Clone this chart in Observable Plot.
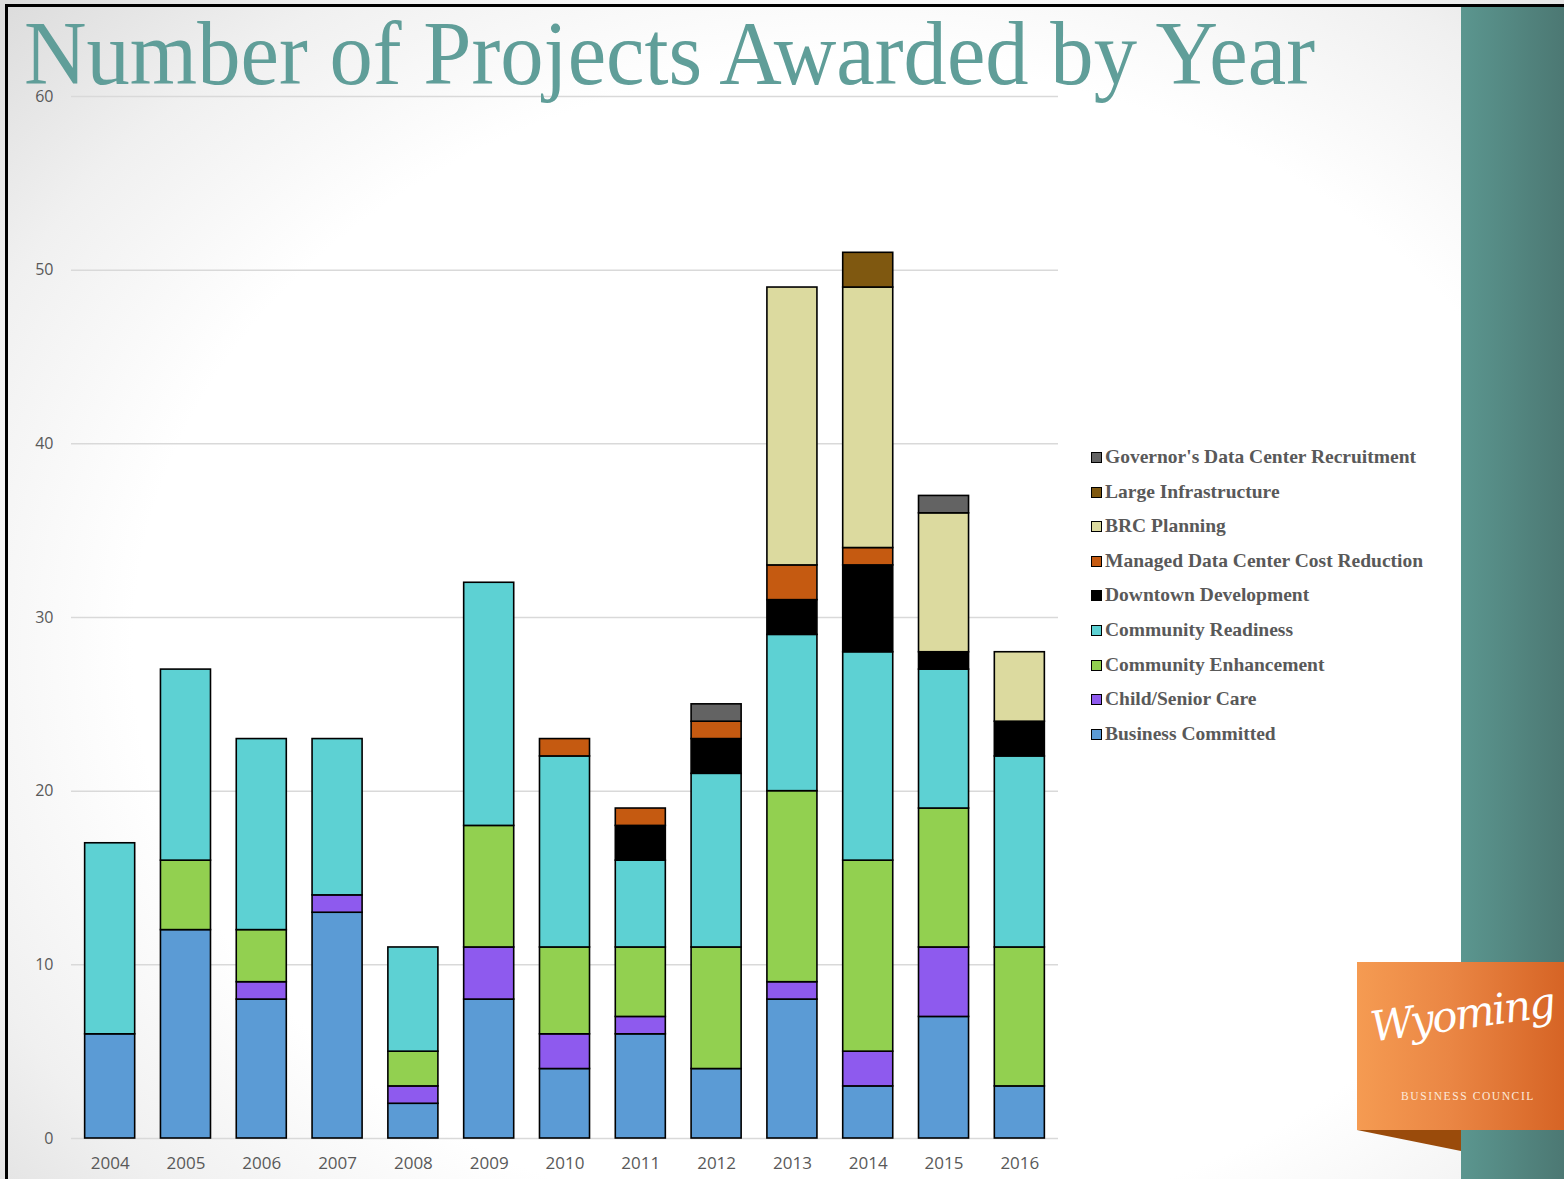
<!DOCTYPE html>
<html>
<head>
<meta charset="utf-8">
<script src="https://cdn.jsdelivr.net/npm/d3@7"></script>
<script src="https://cdn.jsdelivr.net/npm/@observablehq/plot@0.6"></script>
<style>
  html, body { margin: 0; padding: 0; }
  body { width: 1564px; height: 1179px; overflow: hidden; }
  #slide {
    position: relative; width: 1564px; height: 1179px; overflow: hidden;
    background: radial-gradient(ellipse 75% 80% at 55% 55%, #ffffff 62%, #f0f0f0 82%, #dcdcdc 100%);
  }
  #frameLine {
    position: absolute; left: 5px; top: 4px; right: 0; bottom: -10px;
    border-left: 3px solid #000; border-top: 3px solid #000;
  }
  #band {
    position: absolute; left: 1461px; top: 7px; width: 103px; bottom: 0;
    background: linear-gradient(to right, #5b968f, #4c7873);
  }
  #logo {
    position: absolute; left: 1357px; top: 962px; width: 207px; height: 168px;
    background: linear-gradient(to right, #f59b52, #ea8644 45%, #d66425);
  }
  #tri {
    position: absolute; left: 1357px; top: 1130px; width: 104px; height: 21px;
    background: #9a4b0b; clip-path: polygon(0 0, 100% 0, 100% 100%);
  }
  #logoText {
    position: absolute; left: 1362px; top: 990px; width: 200px; text-align: center;
    font-family: "DejaVu Serif", serif; font-style: italic; font-size: 42px; color: #fff;
    letter-spacing: -2px; transform: rotate(-8deg);
  }
  #logoSub {
    position: absolute; left: 1380px; top: 1090px; width: 176px; text-align: center;
    font-family: "Liberation Serif", serif; font-size: 11.5px; color: #fdeadb; letter-spacing: 1.6px;
  }
  #title {
    position: absolute; left: 24px; top: 9px; white-space: nowrap;
    font-family: "Liberation Serif", serif; font-size: 90px; color: #609e99;
    transform-origin: 0 0; line-height: 1;
  }
  #chart { position: absolute; left: 0; top: 0; }
  #legend { position: absolute; left: 1091px; top: 446px; }
  .li { position: relative; height: 34.6px; display: flex; align-items: flex-start;
        font-family: "Liberation Serif", serif; font-weight: bold; font-size: 19.5px; color: #595959; }
  .sw { width: 9px; height: 9px; border: 1.2px solid #000; margin-top: 6px; margin-right: 3px; flex: none; }
</style>
</head>
<body>
<div id="slide">
  <div id="band"></div>
  <div id="frameLine"></div>
  <div id="chart"></div>
  <div id="title">Number of Projects Awarded by Year</div>
  <div id="legend"></div>
  <div id="logo"></div>
  <div id="tri"></div>
  <div id="logoText">Wyoming</div>
  <div id="logoSub">BUSINESS COUNCIL</div>
</div>
<script>
// ---- data ----
const years = ["2004","2005","2006","2007","2008","2009","2010","2011","2012","2013","2014","2015","2016"];
const seriesNames = [
  "Business Committed",
  "Child/Senior Care",
  "Community Enhancement",
  "Community Readiness",
  "Downtown Development",
  "Managed Data Center Cost Reduction",
  "BRC Planning",
  "Large Infrastructure",
  "Governor's Data Center Recruitment"
];
const businessCommitted      = [6, 12, 8, 13, 2, 8, 4, 6, 4, 8, 3, 7, 3];
const childSeniorCare        = [0, 0, 1, 1, 1, 3, 2, 1, 0, 1, 2, 4, 0];
const communityEnhancement   = [0, 4, 3, 0, 2, 7, 5, 4, 7, 11, 11, 8, 8];
const communityReadiness     = [11, 11, 11, 9, 6, 14, 11, 5, 10, 9, 12, 8, 11];
const downtownDevelopment    = [0, 0, 0, 0, 0, 0, 0, 2, 2, 2, 5, 1, 2];
const managedDataCenter      = [0, 0, 0, 0, 0, 0, 1, 1, 1, 2, 1, 0, 0];
const brcPlanning            = [0, 0, 0, 0, 0, 0, 0, 0, 0, 16, 15, 8, 4];
const largeInfrastructure    = [0, 0, 0, 0, 0, 0, 0, 0, 0, 0, 2, 0, 0];
const governorsDataCenter    = [0, 0, 0, 0, 0, 0, 0, 0, 1, 0, 0, 1, 0];
const seriesColors = ["#5b9bd5", "#8e5aee", "#92d050", "#5dd1d3", "#000000", "#c55a11", "#dcda9f", "#7f5810", "#636363"];
const yTicks = [0, 10, 20, 30, 40, 50, 60];

const seriesValues = [businessCommitted, childSeniorCare, communityEnhancement, communityReadiness,
  downtownDevelopment, managedDataCenter, brcPlanning, largeInfrastructure, governorsDataCenter];

const rows = [];
seriesNames.forEach((s, si) => {
  years.forEach((y, yi) => {
    const v = seriesValues[si][yi];
    if (v > 0) rows.push({year: y, series: s, value: v});
  });
});

const chart = Plot.plot({
  width: 1080,
  height: 1179,
  marginLeft: 71,
  marginRight: 22,
  marginTop: 96,
  marginBottom: 41,
  style: {background: "transparent", fontFamily: "'Open Sans', sans-serif", fontSize: "17px", color: "#595959"},
  x: {domain: years, paddingInner: 0.34, paddingOuter: 0.18, round: false, label: null, tickSize: 0, tickPadding: 18},
  y: {domain: [0, 60], ticks: yTicks, label: null, tickSize: 0, tickPadding: 18},
  color: {domain: seriesNames, range: seriesColors},
  marks: [
    Plot.gridY(yTicks, {stroke: "#d9d9d9", strokeOpacity: 1, strokeWidth: 1.5}),
    Plot.barY(rows, Plot.stackY({
      x: "year", y: "value", fill: "series", order: seriesNames,
      stroke: "#000", strokeWidth: 1.6
    })),
    Plot.axisX({tickSize: 0, tickPadding: 18, fill: "#595959", fontSize: 17}),
    Plot.axisY(yTicks, {tickSize: 0, tickPadding: 18, fill: "#595959", fontSize: 16})
  ]
});
document.getElementById("chart").appendChild(chart);

// legend (top to bottom = reverse stack order)
const legend = document.getElementById("legend");
for (let i = seriesNames.length - 1; i >= 0; i--) {
  const li = document.createElement("div");
  li.className = "li";
  const sw = document.createElement("div");
  sw.className = "sw";
  sw.style.background = seriesColors[i];
  const t = document.createElement("span");
  t.textContent = seriesNames[i];
  li.appendChild(sw); li.appendChild(t);
  legend.appendChild(li);
}

// fit title width to reference
const title = document.getElementById("title");
const w = title.getBoundingClientRect().width;
title.style.transform = `scaleX(${1291 / w})`;
</script>
</body>
</html>
